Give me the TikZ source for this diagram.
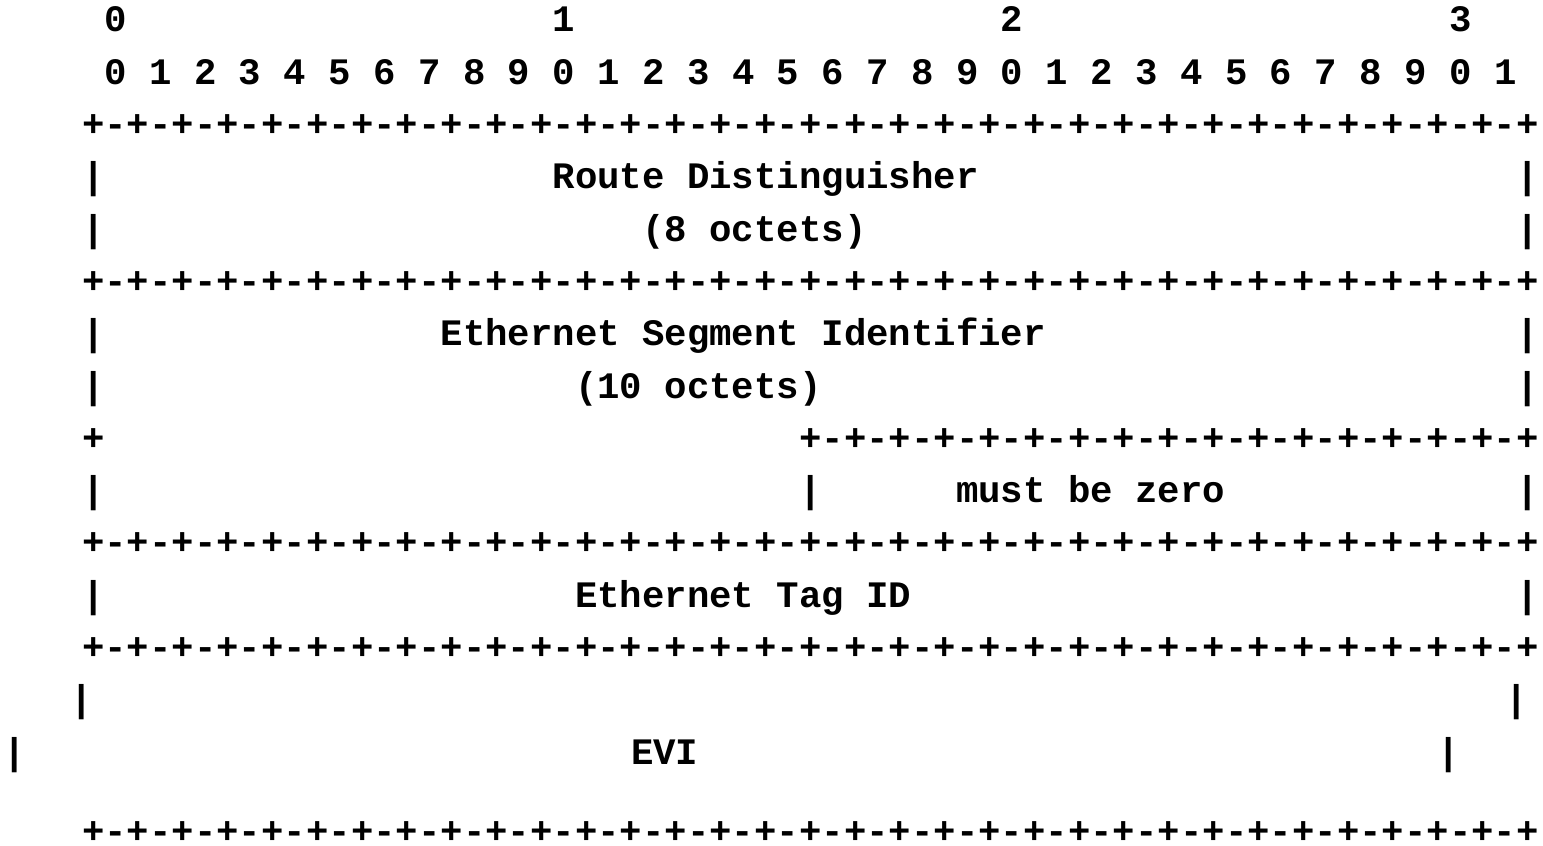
\documentclass[tikz,border=0pt]{standalone}
\usepackage{fontspec}
\setmonofont{Liberation Mono}
\newcommand{\asciifont}{\ttfamily\bfseries\fontsize{37.35}{40}\selectfont\frenchspacing}
\newcommand{\pluslineA}{+-+-+-+-+-+-+-+-+-+-+-+-+-+-+-+-+-+-+-+-+-+-+-+-+-+-+-+-+-+-+-+-+}
\newcommand{\pluslineB}{+-+-+-+-+-+-+-+-+-+-+-+-+-+-+-+-+}
\tikzset{
  txt/.style={anchor=base west, inner sep=0pt, outer sep=0pt, font=\asciifont, text=black},
}
\newcommand{\cx}[1]{82.1+22.41*(#1)}
\newcommand{\by}[1]{31.9+52.3*(#1)}
\begin{document}
\begin{tikzpicture}[x=1pt,y=-1pt]
\useasboundingbox (0,0) rectangle (1543,846);
\fill[white] (0,0) rectangle (1543,846);
% header rows
\node[txt] (h0) at ({\cx{1}},{\by{0}}) {0};
\node[txt] (h1) at ({\cx{21}},{\by{0}}) {1};
\node[txt] (h2) at ({\cx{41}},{\by{0}}) {2};
\node[txt] (h3) at ({\cx{61}},{\by{0}}) {3};
\node[txt] (bits) at ({\cx{1}},{\by{1}}) {0 1 2 3 4 5 6 7 8 9 0 1 2 3 4 5 6 7 8 9 0 1 2 3 4 5 6 7 8 9 0 1};
% row 2 border
\node[txt] (b2) at ({\cx{0}},{\by{2}}) {\pluslineA};
% Route Distinguisher
\node[txt] (l3) at ({\cx{0}},{\by{3}}) {|};
\node[txt] (rd) at ({\cx{21}},{\by{3}}) {Route Distinguisher};
\node[txt] (r3) at ({\cx{64}},{\by{3}}) {|};
\node[txt] (l4) at ({\cx{0}},{\by{4}}) {|};
\node[txt] (rdo) at ({\cx{25}},{\by{4}}) {(8 octets)};
\node[txt] (r4) at ({\cx{64}},{\by{4}}) {|};
\node[txt] (b5) at ({\cx{0}},{\by{5}}) {\pluslineA};
% ESI
\node[txt] (l6) at ({\cx{0}},{\by{6}}) {|};
\node[txt] (esi) at ({\cx{16}},{\by{6}}) {Ethernet Segment Identifier};
\node[txt] (r6) at ({\cx{64}},{\by{6}}) {|};
\node[txt] (l7) at ({\cx{0}},{\by{7}}) {|};
\node[txt] (esio) at ({\cx{22}},{\by{7}}) {(10 octets)};
\node[txt] (r7) at ({\cx{64}},{\by{7}}) {|};
\node[txt] (l8) at ({\cx{0}},{\by{8}}) {+};
\node[txt] (b8) at ({\cx{32}},{\by{8}}) {\pluslineB};
% must be zero
\node[txt] (l9) at ({\cx{0}},{\by{9}}) {|};
\node[txt] (m9) at ({\cx{32}},{\by{9}}) {|};
\node[txt] (mbz) at ({\cx{39}},{\by{9}}) {must be zero};
\node[txt] (r9) at ({\cx{64}},{\by{9}}) {|};
\node[txt] (b10) at ({\cx{0}},{\by{10}}) {\pluslineA};
% Ethernet Tag ID
\node[txt] (l11) at ({\cx{0}},{\by{11}}) {|};
\node[txt] (etid) at ({\cx{22}},{\by{11}}) {Ethernet Tag ID};
\node[txt] (r11) at ({\cx{64}},{\by{11}}) {|};
\node[txt] (b12) at ({\cx{0}},{\by{12}}) {\pluslineA};
% EVI rows (misaligned as in reference)
\node[txt] (l13) at ({\cx{-0.5}},{\by{13}}) {|};
\node[txt] (r13) at ({\cx{63.5}},{\by{13}}) {|};
\node[txt] (l14) at ({\cx{-3.5}},{\by{14}}) {|};
\node[txt] (evi) at ({\cx{24.5}},{\by{14}}) {EVI};
\node[txt] (r14) at ({\cx{60.5}},{\by{14}}) {|};
\node[txt, text depth=0pt] (blast) at ({\cx{0}},843) {\pluslineA};
\end{tikzpicture}
\end{document}
